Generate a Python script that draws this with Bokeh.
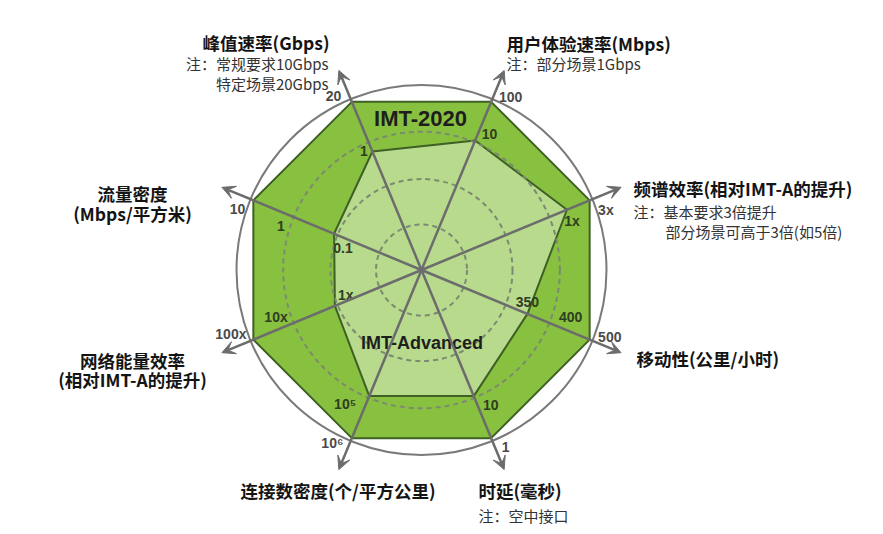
import math
from bokeh.plotting import figure
from bokeh.models import ColumnDataSource, Range1d, Arrow, VeeHead
from bokeh.core.properties import value
from bokeh.embed import file_html
from bokeh.resources import INLINE

# ---------------- data ----------------
metrics = ["峰值速率", "用户体验速率", "频谱效率", "移动性", "时延", "连接数密度", "网络能量效率", "流量密度"]
axis_angles = [112.5, 67.5, 22.5, -22.5, -67.5, -112.5, -157.5, 157.5]   # direction of each axis (deg)

imt2020_labels = ["20", "100", "3x", "500", "1", "10⁶", "100x", "10"]
imt2020_r = [1.0, 1.0, 1.0, 1.0, 1.0, 1.0, 1.0, 1.0]

imt_adv_labels = ["1", "10", "1x", "350", "10", "10⁵", "1x", "0.1"]
imt_adv_r = [0.705, 0.77, 0.865, 0.63, 0.75, 0.75, 0.515, 0.52]

# intermediate tick labels: (axis index, label, relative radius)
mid_ticks = [(3, "400", 0.86), (6, "10x", 0.84), (7, "1", 0.81)]

ring_levels = [0.25, 0.5, 0.76]

# ---------------- layout ----------------
W, H = 883, 534
CX, CY = 421.0, 269.5      # centre of the radar in pixels
R = 182.0                  # radius of the outer octagon
R_CIRCLE = 185.0
R_ARROW = 216.0

p = figure(width=W, height=H, output_backend="svg", toolbar_location=None,
           x_range=Range1d(-CX, W - CX), y_range=Range1d(CY - H, CY),
           x_axis_location=None, y_axis_location=None, min_border=0)
p.grid.visible = False
p.outline_line_color = None
p.background_fill_color = "white"
p.border_fill_color = "white"


def polar(r, ang):
    a = math.radians(ang)
    return r * math.cos(a), r * math.sin(a)


# outer circle
p.circle(x=[0], y=[0], radius=R_CIRCLE, fill_color=None, line_color="#7a7a7a", line_width=2)

# IMT-2020 octagon
ox, oy = zip(*[polar(r * R, a) for r, a in zip(imt2020_r, axis_angles)])
p.patch(list(ox), list(oy), fill_color="#88c13f", line_color="#3e5f25", line_width=2)

# IMT-Advanced polygon
ix, iy = zip(*[polar(r * R, a) for r, a in zip(imt_adv_r, axis_angles)])
p.patch(list(ix), list(iy), fill_color="#b7da8d", line_color="#3e5f25", line_width=2)

# dashed rings
for lv in ring_levels:
    p.circle(x=[0], y=[0], radius=lv * R, fill_color=None, line_color="#7b8a70",
             line_width=2, line_dash="5 4")

# axes with arrows
for a in axis_angles:
    ex, ey = polar(R_ARROW, a)
    p.add_layout(Arrow(x_start=0, y_start=0, x_end=ex, y_end=ey, line_color="#6c6c6c",
                       line_width=2.5,
                       end=VeeHead(size=13, fill_color="#6c6c6c", line_color="#6c6c6c", line_width=1)))
p.scatter(x=[0], y=[0], size=5, color="#6c6c6c")

TICK_FONT = value("Liberation Sans")

# outer tick labels (IMT-2020 values)
outer_off = [4.3, -4.7, -4.4, 2.8, 2.9, -4.7, -4.0, 4.1]
outer_rad = [195, 195, 194, 200, 196, 195, 201, 194]
tx, ty = zip(*[polar(r, a + o) for r, a, o in zip(outer_rad, axis_angles, outer_off)])
p.text(x=list(tx), y=list(ty), text=imt2020_labels, text_font=TICK_FONT, text_font_size="14px",
       text_font_style="bold", text_color="#4a4a4a", text_align="center", text_baseline="middle")

# inner tick labels (IMT-Advanced values)
inner_dr = [4, 12, 1, -4, 15, 18, -14, -13]
inner_off = [3.3, -4.1, -4.3, 5.7, 4.7, -7.1, -4.1, 6.7]
kx, ky = zip(*[polar(r * R + d, a + o) for r, d, a, o in zip(imt_adv_r, inner_dr, axis_angles, inner_off)])
p.text(x=list(kx), y=list(ky), text=imt_adv_labels, text_font=TICK_FONT, text_font_size="14px",
       text_font_style="bold", text_color="#2f3d22", text_align="center", text_baseline="middle")

mid_off = [4.9, -4.6, 5.0]
mx, my = zip(*[polar(r * R, axis_angles[i] + o) for (i, _, r), o in zip(mid_ticks, mid_off)])
p.text(x=list(mx), y=list(my), text=[t for _, t, _ in mid_ticks], text_font=TICK_FONT,
       text_font_size="14px", text_font_style="bold", text_color="#2f3d22",
       text_align="center", text_baseline="middle")

# series names
p.text(x=[-1], y=[CY - 118], text=["IMT-2020"], text_font=value("Liberation Sans"),
       text_font_size="22px", text_font_style="bold", text_color="#1e1e1e",
       text_align="center", text_baseline="middle")
p.text(x=[0.5], y=[CY - 342.5], text=["IMT-Advanced"], text_font=value("Liberation Sans"),
       text_font_size="18px", text_font_style="bold", text_color="#1e1e1e",
       text_align="center", text_baseline="middle")

# ---------------- metric titles and notes ----------------
CJK = value("Noto Sans CJK SC")
titles = [
    # text, px, py, align, bold
    ("峰值速率(Gbps)", 329, 42, "right", True),
    ("注：常规要求10Gbps", 328, 63, "right", False),
    ("特定场景20Gbps", 328, 83, "right", False),
    ("用户体验速率(Mbps)", 506, 43, "left", True),
    ("注：部分场景1Gbps", 506, 63, "left", False),
    ("频谱效率(相对IMT-A的提升)", 633, 188, "left", True),
    ("注：基本要求3倍提升", 633, 211, "left", False),
    ("部分场景可高于3倍(如5倍)", 665, 231, "left", False),
    ("移动性(公里/小时)", 636, 358, "left", True),
    ("流量密度", 132, 193, "center", True),
    ("(Mbps/平方米)", 132, 213, "center", True),
    ("网络能量效率", 132, 360, "center", True),
    ("(相对IMT-A的提升)", 132, 379, "center", True),
    ("连接数密度(个/平方公里)", 240, 490, "left", True),
    ("时延(毫秒)", 478, 490, "left", True),
    ("注：空中接口", 478, 515, "left", False),
]
for txt, px, py, align, bold in titles:
    p.text(x=[px - CX], y=[CY - py], text=[txt], text_font=CJK,
           text_font_size="17.5px" if bold else "15px",
           text_font_style="bold" if bold else "normal",
           text_color="#141414" if bold else "#333333",
           text_align=align, text_baseline="middle")

open("out.html", "w").write(file_html(p, INLINE))
